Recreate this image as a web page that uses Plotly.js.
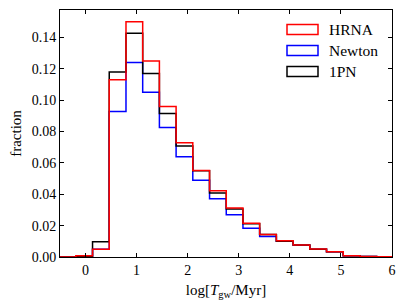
<!DOCTYPE html>
<html>
<head>
<meta charset="utf-8">
<script src="https://cdn.plot.ly/plotly-3.0.1.min.js"></script>
<style>html,body{margin:0;padding:0;background:#fff;}#chart{width:407px;height:308px;}</style>
</head>
<body>
<div id="chart"></div>
<script>
// bin edges of log[T_gw/Myr]
const binEdges = [-0.845, -0.517, -0.190, 0.137, 0.464, 0.792, 1.119, 1.446, 1.773, 2.100, 2.428, 2.755, 3.082, 3.409, 3.736, 4.064, 4.391, 4.718, 5.045, 5.372, 5.700, 6.027, 6.354];
// fraction per bin (one value per bin)
const hrna   = [0, 0, 0.0008, 0.0050, 0.1130, 0.1500, 0.1250, 0.0960, 0.0729, 0.0551, 0.0423, 0.0312, 0.0216, 0.0143, 0.0103, 0.0077, 0.0051, 0.0034, 0.0008, 0.0003, 0.0001, 0];
const newton = [0, 0, 0.0002, 0.0050, 0.0927, 0.1240, 0.1050, 0.0825, 0.0639, 0.0489, 0.0372, 0.0269, 0.0184, 0.0130, 0.0100, 0.0075, 0.0050, 0.0033, 0.0008, 0.0003, 0.0001, 0];
const pn1    = [0, 0, 0.0003, 0.0098, 0.1180, 0.1427, 0.1170, 0.0915, 0.0707, 0.0550, 0.0408, 0.0306, 0.0212, 0.0143, 0.0101, 0.0076, 0.0050, 0.0033, 0.0008, 0.0003, 0.0001, 0];
const seriesNames = ['HRNA', 'Newton', '1PN'];
const seriesColors = ['#ff0000', '#0000ff', '#000000'];

function stepTrace(vals, color, name) {
  const xs = [], ys = [];
  for (let i = 0; i < vals.length; i++) { xs.push(binEdges[i]); ys.push(vals[i]); }
  xs.push(binEdges[vals.length]); ys.push(vals[vals.length - 1]);
  return {x: xs, y: ys, type: 'scatter', mode: 'lines', name: name,
          line: {shape: 'hv', color: color, width: 1.5}, showlegend: false, hoverinfo: 'skip'};
}

const traces = [
  stepTrace(newton, seriesColors[1], seriesNames[1]),
  stepTrace(pn1, seriesColors[2], seriesNames[2]),
  stepTrace(hrna, seriesColors[0], seriesNames[0])
];

const fam = 'Liberation Serif, DejaVu Serif, serif';
const font = {family: fam, size: 14, color: '#000'};
const shapes = [], annotations = [];
const rowY = [29.5, 50.5, 71.5];
const toPY = (px) => (257 - px) / 247;
for (let i = 0; i < 3; i++) {
  shapes.push({type: 'rect', xref: 'paper', yref: 'paper',
    x0: (287 - 60) / 332, x1: (318 - 60) / 332, y0: toPY(rowY[i] + 5), y1: toPY(rowY[i] - 5),
    line: {color: seriesColors[i], width: 1.5}, fillcolor: 'rgba(0,0,0,0)'});
  annotations.push({xref: 'paper', yref: 'paper', x: (327 - 60) / 332, y: toPY(rowY[i]),
    xanchor: 'left', yanchor: 'middle', text: seriesNames[i], showarrow: false,
    font: {family: fam, size: 15.5, color: '#000'}});
}

const axisCommon = {showgrid: false, zeroline: false, showline: true, linecolor: '#000', linewidth: 1,
  mirror: 'ticks', ticks: 'inside', ticklen: 4, tickwidth: 1, tickcolor: '#000', tickfont: font};

const layout = {
  width: 407, height: 308,
  margin: {l: 60, r: 15, t: 10, b: 51},
  paper_bgcolor: '#fff', plot_bgcolor: '#fff',
  font: font,
  showlegend: false,
  xaxis: Object.assign({}, axisCommon, {range: [-0.5, 6], tickvals: [0,1,2,3,4,5,6],
    title: {text: 'log[<i>T</i><sub>gw</sub>/Myr]', font: {family: fam, size: 15}, standoff: 7}}),
  yaxis: Object.assign({}, axisCommon, {range: [0, 0.1575], tickvals: [0,0.02,0.04,0.06,0.08,0.10,0.12,0.14], tickformat: '.2f',
    title: {text: 'fraction', font: {family: fam, size: 15}, standoff: 6}}),
  shapes: shapes,
  annotations: annotations
};

Plotly.newPlot('chart', traces, layout, {staticPlot: true, displayModeBar: false});
</script>
</body>
</html>
